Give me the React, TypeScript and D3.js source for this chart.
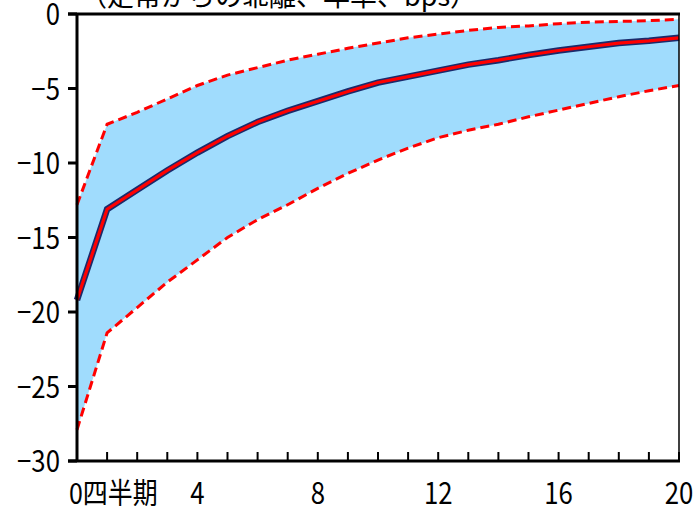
import React from "react";
import * as d3 from "d3";

// Quarters after the shock
const quarters = d3.range(0, 21);
// Median response (bps)
const median = [-19.2, -13.1, -11.8, -10.5, -9.3, -8.2, -7.25, -6.5, -5.85, -5.2, -4.6, -4.2, -3.8, -3.4, -3.1, -2.75, -2.45, -2.2, -1.95, -1.8, -1.6];
// Upper band
const upper = [-12.8, -7.4, -6.6, -5.7, -4.8, -4.1, -3.6, -3.1, -2.7, -2.3, -1.95, -1.6, -1.35, -1.1, -0.9, -0.8, -0.65, -0.55, -0.5, -0.45, -0.35];
// Lower band
const lower = [-27.9, -21.4, -19.7, -18.0, -16.5, -15.0, -13.8, -12.8, -11.7, -10.7, -9.8, -9.0, -8.3, -7.8, -7.4, -6.9, -6.45, -6.0, -5.55, -5.15, -4.8];

const yTicks = [0, -5, -10, -15, -20, -25, -30];
const xLabelTicks = [4, 8, 12, 16, 20];
const firstXLabel = "0四半期";
const unitLabel = "（定常からの乖離、年率、bps）";

const W = 695;
const H = 506;
const FONT = "'Noto Sans CJK JP', 'Noto Sans', sans-serif";

// Condensed label: horizontally squeezed text anchored at (x, y)
function Label({
  x,
  y,
  anchor = "start",
  size = 30,
  squeeze = 0.86,
  children,
}: {
  x: number;
  y: number;
  anchor?: "start" | "middle" | "end";
  size?: number;
  squeeze?: number;
  children: React.ReactNode;
}) {
  return (
    <g transform={`translate(${x},${y}) scale(${squeeze},1)`}>
      <text x={0} y={0} textAnchor={anchor} fontFamily={FONT} fontSize={size} fill="#000">
        {children}
      </text>
    </g>
  );
}

export default function App() {
  const x = d3.scaleLinear().domain([0, 20]).range([77, 679]);
  const y = d3.scaleLinear().domain([-30, 0]).range([461, 14]);

  const band = d3
    .area<number>()
    .x((d) => x(d))
    .y0((d) => y(lower[d]))
    .y1((d) => y(upper[d]));
  const line = (vals: number[]) =>
    d3
      .line<number>()
      .x((d) => x(d))
      .y((d) => y(vals[d]))(quarters) as string;

  const [x0, x1] = x.range();
  const [yb, yt] = y.range();

  return (
    <svg
      width={W}
      height={H}
      style={{ position: "absolute", left: 0, top: 0, background: "#fff" }}
    >
      <text x={80} y={6} fontFamily={FONT} fontSize={27} fill="#000">
        {unitLabel}
      </text>

      <path d={band(quarters) as string} fill="#a0dcfd" />

      <path d={line(upper)} fill="none" stroke="#ff0000" strokeWidth={3} strokeDasharray="9,5" />
      <path d={line(lower)} fill="none" stroke="#ff0000" strokeWidth={3} strokeDasharray="9,5" />

      <path d={line(median)} fill="none" stroke="#1b2a6b" strokeWidth={6.5} strokeLinejoin="miter" />
      <path d={line(median)} fill="none" stroke="#ff0000" strokeWidth={3.2} strokeLinejoin="miter" />

      {/* frame */}
      <line x1={x0} x2={x0} y1={yt} y2={yb} stroke="#000" strokeWidth={3} />
      <line x1={x1} x2={x1} y1={yt} y2={yb} stroke="#000" strokeWidth={1.5} />
      <line x1={68} x2={x1 + 1} y1={yt} y2={yt} stroke="#000" strokeWidth={3} />
      <line x1={68} x2={x1 + 1} y1={yb} y2={yb} stroke="#000" strokeWidth={3} />

      {yTicks.map((t) => (
        <g key={t}>
          <line x1={68} x2={x0} y1={y(t)} y2={y(t)} stroke="#000" strokeWidth={3} />
          <Label x={60} y={y(t) + 11} anchor="end">
            {t === 0 ? "0" : `−${Math.abs(t)}`}
          </Label>
        </g>
      ))}

      {quarters.map((q) => (
        <line key={q} x1={x(q)} x2={x(q)} y1={yb} y2={yb - 9} stroke="#000" strokeWidth={2} />
      ))}

      <Label x={x(0) - 8} y={504} size={29} squeeze={0.86}>
        {firstXLabel}
      </Label>
      {xLabelTicks.map((t) => (
        <Label key={t} x={x(t)} y={504} anchor="middle">
          {t}
        </Label>
      ))}
    </svg>
  );
}
